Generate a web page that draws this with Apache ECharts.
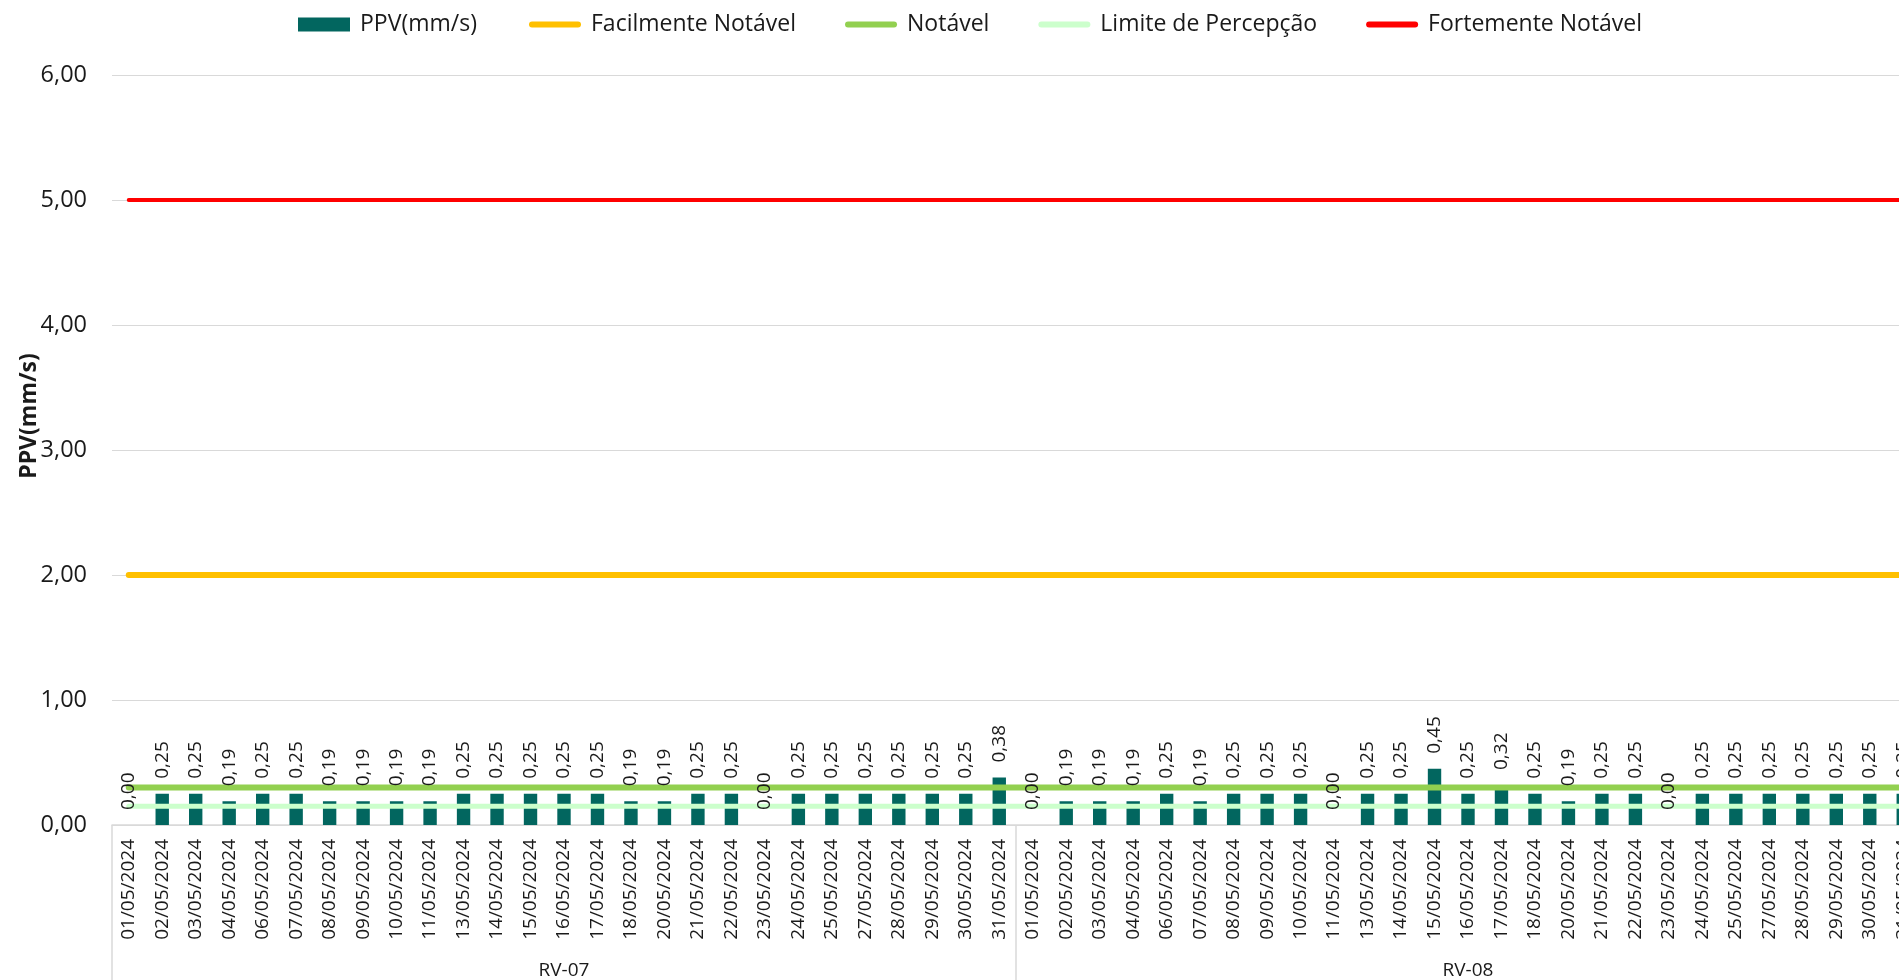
<!DOCTYPE html>
<html lang="pt">
<head>
<meta charset="utf-8">
<title>PPV(mm/s) – RV-07 / RV-08</title>
<script src="https://cdn.jsdelivr.net/npm/echarts@6/dist/echarts.min.js"></script>
<style>
  html, body { margin: 0; padding: 0; background: #ffffff; overflow: hidden; }
  #chart { width: 1944px; height: 980px; }
</style>
</head>
<body>
<div id="chart"></div>
<script>
// Measurement days (same list for both monitoring points)
const days = [
  '01/05/2024', '02/05/2024', '03/05/2024', '04/05/2024', '06/05/2024', '07/05/2024',
  '08/05/2024', '09/05/2024', '10/05/2024', '11/05/2024', '13/05/2024', '14/05/2024',
  '15/05/2024', '16/05/2024', '17/05/2024', '18/05/2024', '20/05/2024', '21/05/2024',
  '22/05/2024', '23/05/2024', '24/05/2024', '25/05/2024', '27/05/2024', '28/05/2024',
  '29/05/2024', '30/05/2024', '31/05/2024'
];

// Monitoring points (outer axis level)
const points = ['RV-07', 'RV-08'];

// Peak particle velocity, mm/s
const ppvRV07 = [
  0.00, 0.25, 0.25, 0.19, 0.25, 0.25, 0.19, 0.19, 0.19, 0.19, 0.25, 0.25, 0.25, 0.25,
  0.25, 0.19, 0.19, 0.25, 0.25, 0.00, 0.25, 0.25, 0.25, 0.25, 0.25, 0.25, 0.38
];
const ppvRV08 = [
  0.00, 0.19, 0.19, 0.19, 0.25, 0.19, 0.25, 0.25, 0.25, 0.00, 0.25, 0.25, 0.45, 0.25,
  0.32, 0.25, 0.19, 0.25, 0.25, 0.00, 0.25, 0.25, 0.25, 0.25, 0.25, 0.25, 0.25
];

// Perception thresholds, mm/s
const limiteFacilmenteNotavel = 2.0;
const limiteNotavel = 0.3;
const limitePercepcao = 0.15;
const limiteFortementeNotavel = 5.0;

// Y axis ticks
const yMin = 0, yMax = 6, yStep = 1;

// ---- build the option ----
const categories = days.concat(days);
const ppv = ppvRV07.concat(ppvRV08);
const constantLine = v => categories.map(() => v);

const FONT = "'Open Sans', 'Noto Sans', sans-serif";
const TEXT = '#1a1a1a';
const GRID = '#d9d9d9';
const fmt = v => Number(v).toFixed(2).replace('.', ',');

// rounded bar used as the legend key of the threshold lines
const LINE_KEY = 'path://M3,0 H49 A3,3 0 0 1 49,6 H3 A3,3 0 0 1 3,0 Z';

const chart = echarts.init(document.getElementById('chart'), null, { renderer: 'canvas' });

const thresholdSeries = (name, data, color, width) => ({
  name, type: 'line', data,
  xAxisIndex: 0, yAxisIndex: 0,
  symbol: 'none',
  lineStyle: { color, width, cap: 'round' },
  itemStyle: { color },
  z: 3,
  silent: true
});

const legendText = { fontFamily: FONT, fontSize: 23, color: TEXT, padding: [0, 0, 0, 5] };

chart.setOption({
  animation: false,
  textStyle: { fontFamily: FONT, color: TEXT },
  legend: [
    {
      top: 8, left: 293,
      itemWidth: 52, itemHeight: 14,
      textStyle: legendText,
      data: [{ name: 'PPV(mm/s)', icon: 'rect' }]
    },
    {
      top: 8, left: 524,
      itemWidth: 52, itemHeight: 6,
      itemGap: 49,
      textStyle: legendText,
      data: ['Facilmente Notável', 'Notável', 'Limite de Percepção', 'Fortemente Notável']
        .map(name => ({ name, icon: LINE_KEY }))
    }
  ],
  grid: { left: 112, right: 24, top: 75, bottom: 154, containLabel: false },
  xAxis: [
    {
      type: 'category',
      data: categories,
      position: 'bottom',
      boundaryGap: true,
      axisLine: { lineStyle: { color: GRID, width: 1.5 } },
      axisTick: { show: false },
      axisLabel: {
        interval: 0, rotate: 90, margin: 14,
        fontFamily: FONT, fontSize: 19, color: TEXT
      },
      splitLine: { show: false }
    },
    {
      type: 'category',
      data: points,
      position: 'bottom',
      boundaryGap: true,
      axisLine: { show: false },
      axisTick: { show: true, length: 170, alignWithLabel: false, lineStyle: { color: GRID, width: 1.5 } },
      axisLabel: { margin: 136, fontFamily: FONT, fontSize: 19, color: TEXT },
      splitLine: { show: false }
    }
  ],
  yAxis: {
    type: 'value',
    min: yMin, max: yMax, interval: yStep,
    axisLine: { show: false },
    axisTick: { show: false },
    axisLabel: { margin: 25, fontFamily: FONT, fontSize: 23.5, color: TEXT, formatter: fmt },
    splitLine: { lineStyle: { color: GRID, width: 1 } }
  },
  graphic: [{
    type: 'text',
    x: 29, y: 416,
    rotation: Math.PI / 2,
    style: {
      text: 'PPV(mm/s)',
      font: "bold 23px 'Open Sans', 'Noto Sans', sans-serif",
      fill: TEXT,
      align: 'center',
      verticalAlign: 'middle'
    }
  }],
  series: [
    {
      name: 'PPV(mm/s)',
      type: 'bar',
      data: ppv,
      xAxisIndex: 0, yAxisIndex: 0,
      barWidth: '40%',
      itemStyle: { color: '#02665f' },
      z: 2
    },
    thresholdSeries('Facilmente Notável', constantLine(limiteFacilmenteNotavel), '#ffc000', 6),
    thresholdSeries('Notável', constantLine(limiteNotavel), '#92d050', 6),
    thresholdSeries('Limite de Percepção', constantLine(limitePercepcao), '#ccffcc', 5),
    thresholdSeries('Fortemente Notável', constantLine(limiteFortementeNotavel), '#ff0000', 4),
    // value labels of the PPV bars, kept above the threshold lines
    {
      name: 'PPV(mm/s) rótulos',
      type: 'bar',
      data: ppv,
      xAxisIndex: 0, yAxisIndex: 0,
      barWidth: '40%',
      barGap: '-100%',
      itemStyle: { color: 'rgba(0,0,0,0)' },
      silent: true,
      z: 5,
      label: {
        show: true,
        position: 'top',
        distance: 15,
        rotate: 90,
        align: 'left',
        verticalAlign: 'middle',
        fontFamily: FONT,
        fontSize: 19,
        color: TEXT,
        formatter: p => fmt(p.value)
      },
      labelLayout: { hideOverlap: false }
    }
  ]
});
</script>
</body>
</html>
